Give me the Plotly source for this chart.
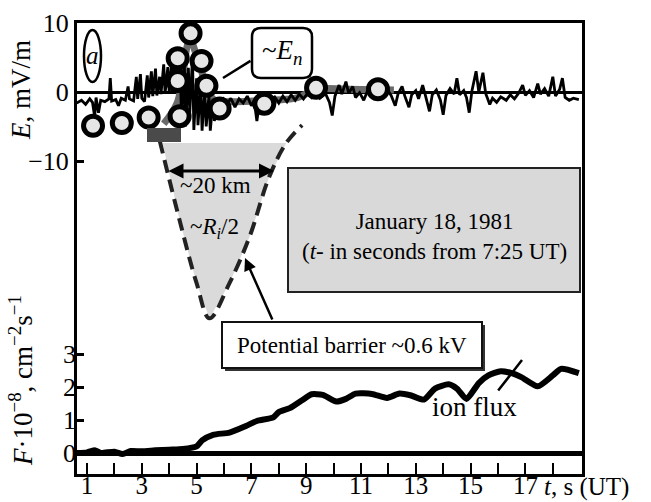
import plotly.graph_objects as go

# ---------------- data ----------------
# electric field trace E (mV/m) vs t (s)
E_t = [0.62, 0.8, 0.95, 1.1, 1.2, 1.28, 1.33, 1.42, 1.5, 1.65, 1.8, 1.85, 1.9, 2.05, 2.15, 2.25,
       2.4, 2.5, 2.55, 2.7, 2.8, 2.85, 2.95, 3.0, 3.1, 3.2, 3.25, 3.35, 3.4, 3.5, 3.55, 3.65,
       3.7, 3.8, 3.85, 3.95, 4.0, 4.1, 4.15, 4.25, 4.3, 4.4, 4.45, 4.55, 4.6, 4.7, 4.75, 4.85,
       4.9, 5.0, 5.05, 5.15, 5.2, 5.3, 5.35, 5.45, 5.5, 5.6, 5.65, 5.75, 5.85, 5.95, 6.1, 6.25,
       6.4, 6.55, 6.7, 6.85, 7.0, 7.1, 7.2, 7.3, 7.45, 7.6, 7.7, 7.85, 8.0, 8.15, 8.3, 8.45,
       8.6, 8.75, 8.9, 9.05, 9.2, 9.35, 9.5, 9.7, 9.85, 9.95, 10.05, 10.2, 10.3, 10.45, 10.55,
       10.7, 10.8, 10.95, 11.1, 11.25, 11.4, 11.6, 11.8, 11.95, 12.1, 12.25, 12.35, 12.5, 12.6,
       12.75, 12.85, 13.0, 13.1, 13.25, 13.35, 13.5, 13.6, 13.75, 13.9, 14.0, 14.1, 14.25, 14.4,
       14.5, 14.6, 14.75, 14.85, 14.95, 15.05, 15.2, 15.3, 15.45, 15.55, 15.7, 15.8, 15.95,
       16.1, 16.3, 16.45, 16.6, 16.75, 16.9, 17.0, 17.15, 17.3, 17.45, 17.55, 17.7, 17.85,
       18.0, 18.1, 18.25, 18.35, 18.45, 18.6, 18.75, 18.95]
E_val = [-1.6, -1.2, -1.8, -1.0, -1.5, -3.6, -0.8, -3.0, -1.2, -1.4, -1.0, 2.0, -1.3, -1.1, -2.0, -0.9,
         -1.2, 0.8, -1.0, -1.3, 2.2, -1.0, 2.6, -0.9, -1.4, 2.4, -0.8, 3.0, -0.6, 3.4, -0.5, 2.2,
         -0.3, 4.0, -0.2, 3.6, 0.0, 4.6, 0.2, 5.2, 0.3, 5.5, -4.5, 4.8, -5.0, 3.5, -3.0, 5.0,
         -5.5, 2.0, -4.8, 1.0, -5.6, 0.5, -5.0, -0.5, -5.6, -1.0, -4.2, -1.2, -2.5, -0.8, -1.8, -0.9,
         -2.2, -1.0, -1.6, -0.6, -2.0, -1.2, -4.2, -1.3, -1.0, -2.8, -1.1, -0.7, -1.6, -0.6, -1.4, -0.4,
         -1.2, -0.3, -1.0, -0.2, -0.8, 0.0, -0.9, -0.2, -1.5, -3.4, -0.6, 1.0, -0.3, 1.5, -0.2,
         0.8, -0.8, -0.1, -1.2, 0.3, -0.4, 0.1, -0.6, 0.4, -0.5, -2.0, -0.3, 0.8, -0.6,
         -2.2, -0.4, 0.2, -1.0, 1.0, -0.5, -2.8, -0.4, 0.3, -1.2, -3.3, -0.5, 0.5, -0.3,
         2.0, -0.4, 0.2, -0.8, -3.0, 0.2, 3.0, 0.0, 2.8, -0.2, -1.8, -0.9, -1.5,
         -0.7, -1.2, -0.4, -1.0, -0.2, 1.0, -0.5, 0.2, -0.8, 1.2, -0.3, 0.5, -0.6,
         2.2, -0.6, 0.4, 2.0, -0.8, -1.2, -0.9, -1.1]

# smoothed normal field ~E_n (grey band)
En_t = [3.8, 4.3, 4.75, 5.1, 5.6, 6.3, 7.5, 8.6, 9.4, 10.5, 12.2]
En_val = [-4.6, -1.5, 7.5, 4.0, -1.0, -1.4, -1.2, -0.9, 0.4, 0.4, 0.3]

# circle markers on ~E_n
circ_t = [1.22, 2.27, 3.25, 4.38, 4.78, 4.31, 5.18, 4.31, 5.36, 5.84, 7.47, 9.36, 11.62]
circ_E = [-4.9, -4.5, -3.7, -3.5, 8.5, 4.9, 4.5, 1.6, 0.9, -2.4, -1.7, 0.6, 0.4]

# potential barrier profile (dashed), in E-axis units
barrier_t = [3.65, 4.38, 5.0, 5.47, 6.2, 6.93, 7.65, 8.27, 8.85]
barrier_E = [-7.0, -18.6, -27.7, -32.8, -27.7, -21.0, -12.3, -7.4, -4.8]
fill_t = [3.76, 4.38, 5.0, 5.47, 6.2, 6.93, 7.65, 8.27, 3.76]
fill_E = [-7.4, -18.6, -27.7, -32.8, -27.7, -21.0, -12.3, -7.4, -7.4]

# ion flux F (1e8 cm^-2 s^-1)
F_t = [0.64, 1.0, 1.3, 1.5, 2.0, 2.3, 2.6, 3.0, 3.5, 4.0, 4.5, 5.0, 5.2, 5.6, 6.2, 6.8, 7.2,
       7.8, 8.0, 8.4, 8.85, 9.2, 9.6, 10.1, 10.45, 10.8, 11.4, 11.95, 12.4, 12.8, 13.3, 13.7,
       14.2, 14.5, 14.85, 15.3, 15.65, 16.1, 16.5, 16.85, 17.45, 18.0, 18.3, 18.95]
F_val = [0.0, 0.02, 0.08, 0.0, 0.04, -0.03, 0.06, 0.05, 0.08, 0.1, 0.12, 0.2, 0.38, 0.55, 0.62,
         0.82, 0.97, 1.08, 1.24, 1.36, 1.6, 1.78, 1.76, 1.56, 1.64, 1.8, 1.79, 1.67, 1.8, 1.75,
         1.62, 1.95, 2.08, 1.95, 1.64, 2.12, 2.35, 2.48, 2.42, 2.3, 2.02, 2.35, 2.55, 2.42]

x_ticks = list(range(1, 19))
x_labels = [str(v) if v % 2 == 1 else "" for v in x_ticks]
E_ticks = [-10, 0, 10]
F_ticks = [0, 1, 2, 3]

# ---------------- geometry helpers ----------------
W, H = 651, 502
L, R, T, B = 77, 582, 23, 474          # frame in pixels
X0_PX, X_SCALE = 87, 27.4               # t=1 at 87 px
E0_PX, E_SCALE = 92, 6.9                # E=0 at 92 px
F0_PX, F_SCALE = 453, 33.0              # F=0 at 453 px


def tx(x):
    return 1 + (x - X0_PX) / X_SCALE


def P(x, y):
    return (x - L) / (R - L), (B - y) / (B - T)


x_range = [tx(L), tx(R)]
E_range = [(E0_PX - B) / E_SCALE, (E0_PX - T) / E_SCALE]
F_range = [(F0_PX - B) / F_SCALE, (F0_PX - T) / F_SCALE]

FONT = "Liberation Serif, Times New Roman, DejaVu Serif, serif"

fig = go.Figure()
fig.add_trace(go.Scatter(x=fill_t, y=fill_E, fill="toself", fillcolor="#dadada",
                         mode="lines", line=dict(width=0), hoverinfo="skip"))
fig.add_trace(go.Scatter(x=En_t, y=En_val, mode="lines",
                         line=dict(color="#6a6a6a", width=7, shape="spline")))
fig.add_trace(go.Scatter(x=E_t, y=E_val, mode="lines", line=dict(color="black", width=2.8)))
fig.add_trace(go.Scatter(x=barrier_t, y=barrier_E, mode="lines",
                         line=dict(color="#222", width=4, dash="13px,7px", shape="spline")))
fig.add_trace(go.Scatter(x=circ_t, y=circ_E, mode="markers",
                         marker=dict(size=19, color="#e6e6e6", symbol="circle",
                                     line=dict(color="black", width=5))))
fig.add_trace(go.Scatter(x=F_t, y=F_val, yaxis="y2", mode="lines",
                         line=dict(color="black", width=6, shape="spline", smoothing=0.6)))

shapes = []


def rect(x0, y0, x1, y1, **kw):
    a = P(x0, y1)
    b = P(x1, y0)
    d = dict(type="rect", xref="paper", yref="paper", x0=a[0], y0=a[1], x1=b[0], y1=b[1])
    d.update(kw)
    shapes.append(d)


# small dark label block under circles
rect(147, 128, 181, 142, fillcolor="#4a4a4a", line=dict(width=0), layer="above")
# date box
rect(288, 168, 580, 292, fillcolor="#d9d9d9", line=dict(color="#222", width=2))
# potential barrier box with shadow
rect(225, 325, 485, 371, fillcolor="#333", line=dict(width=0))
rect(222, 322, 482, 368, fillcolor="white", line=dict(color="#111", width=2))
# ellipse around "a"
a0, a1 = P(84, 82), P(101, 30)
shapes.append(dict(type="circle", xref="paper", yref="paper", x0=a0[0], y0=a0[1], x1=a1[0], y1=a1[1],
                   line=dict(color="black", width=2.5)))


# rounded box ~E_n
def rounded(x0, y0, x1, y1, r):
    def p(x, y):
        q = P(x, y)
        return f"{q[0]:.5f},{q[1]:.5f}"
    path = (f"M {p(x0 + r, y0)} L {p(x1 - r, y0)} Q {p(x1, y0)} {p(x1, y0 + r)} "
            f"L {p(x1, y1 - r)} Q {p(x1, y1)} {p(x1 - r, y1)} L {p(x0 + r, y1)} "
            f"Q {p(x0, y1)} {p(x0, y1 - r)} L {p(x0, y0 + r)} Q {p(x0, y0)} {p(x0 + r, y0)} Z")
    return path


shapes.append(dict(type="path", xref="paper", yref="paper", path=rounded(252, 28, 312, 78, 9),
                   fillcolor="white", line=dict(color="black", width=2.5)))

ann = []


def text(x, y, s, size=22, **kw):
    q = P(x, y)
    d = dict(x=q[0], y=q[1], xref="paper", yref="paper", text=s, showarrow=False,
             xanchor="center", yanchor="middle",
             font=dict(family=FONT, size=size, color="black"))
    d.update(kw)
    ann.append(d)


def arrow(hx, hy, tx_, ty_, head=2, width=2.5, side="end"):
    q = P(hx, hy)
    ann.append(dict(x=q[0], y=q[1], xref="paper", yref="paper", text="", showarrow=True,
                    ax=tx_ - hx, ay=ty_ - hy, arrowhead=head, arrowsize=1, arrowwidth=width,
                    arrowcolor="black", arrowside=side))


text(21, 90, "<i>E</i>, mV/m", size=27, textangle=-90)
text(21, 381, "<i>F</i>·10<sup>−8</sup>, cm<sup>−2</sup>s<sup>−1</sup>", size=27, textangle=-90)
text(215, 185, "~20 km", size=23)
text(214, 228, "~<i>R<sub>i</sub></i>/2", size=23)
text(434, 236, "January 18, 1981<br>(<i>t</i>- in seconds from 7:25 UT)", size=23)
text(352, 345, "Potential barrier ~0.6 kV", size=23)
text(282, 52, "~<i>E<sub>n</sub></i>", size=27)
text(92, 56, "<i>a</i>", size=25)
text(474, 407, "ion flux", size=27)
text(542, 487, "<i>t</i>, s (UT)", size=25, xanchor="left")

arrow(274, 171, 167, 171, head=2, width=3, side="end+start")
arrow(245, 258, 273, 321, head=2, width=2.5)
arrow(223, 78, 252, 60, head=0, width=2.5)
arrow(522, 360, 497, 392, head=0, width=2.5)

fig.update_layout(
    width=W, height=H,
    margin=dict(l=L, r=W - R, t=T, b=H - B, pad=0, autoexpand=False),
    paper_bgcolor="white", plot_bgcolor="white",
    showlegend=False,
    font=dict(family=FONT, size=24, color="black"),
    shapes=shapes, annotations=ann,
    xaxis=dict(range=x_range, tickvals=x_ticks, ticktext=x_labels, ticks="inside",
               ticklen=11, tickwidth=2, tickcolor="black", showgrid=False, zeroline=False,
               showline=True, mirror=True, linewidth=3, linecolor="black", automargin=False,
               ticklabelstandoff=-13, tickfont=dict(family=FONT, size=25)),
    yaxis=dict(range=E_range, tickvals=E_ticks, ticks="inside", ticklen=7, tickwidth=3,
               tickcolor="black", showgrid=False, zeroline=True, zerolinewidth=3,
               zerolinecolor="black", showline=True, mirror=True, linewidth=3, automargin=False,
               linecolor="black", tickfont=dict(family=FONT, size=26)),
    yaxis2=dict(range=F_range, tickvals=F_ticks, overlaying="y", side="left", anchor="x",
                ticks="inside", ticklen=7, tickwidth=3, tickcolor="black", showgrid=False,
                zeroline=True, zerolinewidth=5, zerolinecolor="black", showline=False,
                automargin=False, tickfont=dict(family=FONT, size=26)),
)

fig.write_html("out.html")
